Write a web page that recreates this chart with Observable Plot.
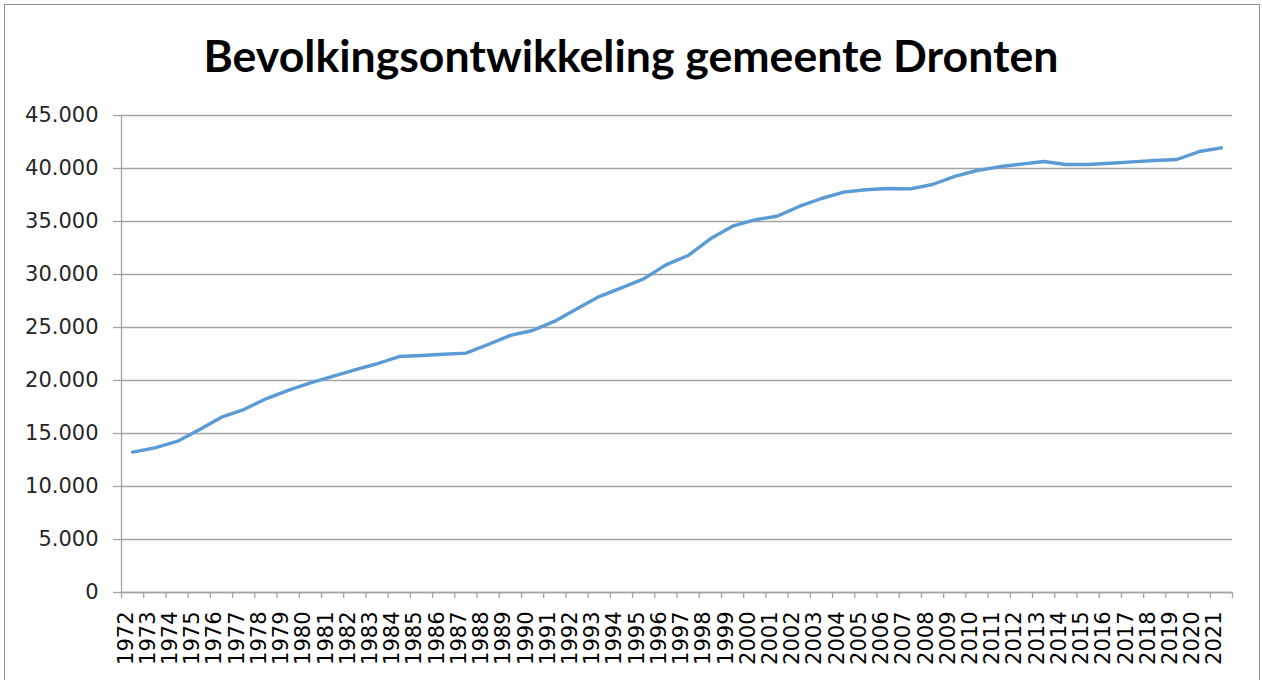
<!DOCTYPE html>
<html>
<head>
<meta charset="utf-8">
<script src="https://cdn.jsdelivr.net/npm/d3@7"></script>
<script src="https://cdn.jsdelivr.net/npm/@observablehq/plot@0.6"></script>
<style>
  html, body { margin: 0; padding: 0; background: #fff; overflow: hidden; }
  #frame { position: absolute; left: 4px; top: 4px; width: 1256px; height: 720px; border: 1px solid #8f8f8f; box-sizing: border-box; }
  #title { position: absolute; left: 0; width: 1262px; top: 33px; text-align: center; font-family: Lato, sans-serif; font-weight: 700; font-size: 42px; line-height: 1; color: #000; white-space: nowrap; }
  #chart { position: absolute; left: 0; top: 95px; }
</style>
</head>
<body>
<div id="frame"></div>
<div id="title">Bevolkingsontwikkeling gemeente Dronten</div>
<div id="chart"></div>
<script>
const titleText = "Bevolkingsontwikkeling gemeente Dronten";

const years = [1972, 1973, 1974, 1975, 1976, 1977, 1978, 1979, 1980, 1981,
               1982, 1983, 1984, 1985, 1986, 1987, 1988, 1989, 1990, 1991,
               1992, 1993, 1994, 1995, 1996, 1997, 1998, 1999, 2000, 2001,
               2002, 2003, 2004, 2005, 2006, 2007, 2008, 2009, 2010, 2011,
               2012, 2013, 2014, 2015, 2016, 2017, 2018, 2019, 2020, 2021];

const population = [13250, 13650, 14250, 15350, 16540, 17260, 18270, 19060, 19780, 20380,
                    21010, 21580, 22260, 22360, 22480, 22580, 23400, 24250, 24720, 25600,
                    26760, 27920, 28740, 29590, 30910, 31790, 33370, 34560, 35160, 35500,
                    36420, 37170, 37770, 37990, 38110, 38080, 38490, 39250, 39810, 40160,
                    40410, 40660, 40380, 40380, 40500, 40630, 40750, 40850, 41600, 41950];

const yTicks = [0, 5000, 10000, 15000, 20000, 25000, 30000, 35000, 40000, 45000];

const data = years.map((year, i) => ({ year, population: population[i] }));
const bounds = d3.range(years.length + 1).map(i => years[0] - 0.5 + i);
const nl = d3.formatLocale({ decimal: ",", thousands: ".", grouping: [3], currency: ["€", ""] });
const fmt = nl.format(",");
const gridColor = "#a3a3a3";

const titleEl = document.getElementById("title");
titleEl.textContent = titleText;

const plot = Plot.plot({
  width: 1262,
  height: 585,
  marginTop: 20,
  marginBottom: 88,
  marginLeft: 121,
  marginRight: 30,
  style: { background: "transparent", overflow: "visible", fontFamily: "DejaVu Sans" },
  x: { domain: [years[0] - 0.5, years[years.length - 1] + 0.5], axis: null, label: null },
  y: { domain: [0, 45000], axis: null, label: null },
  marks: [
    Plot.gridY(yTicks, { stroke: gridColor, strokeOpacity: 1, strokeWidth: 1.3 }),
    Plot.ruleX([years[0] - 0.5], { y1: 0, y2: 45000, stroke: gridColor, strokeWidth: 1.3 }),
    Plot.ruleY([0], { stroke: gridColor, strokeWidth: 1.3 }),
    Plot.axisY(yTicks, {
      label: null, tickSize: 8, tickPadding: 15, tickFormat: fmt,
      fontSize: 21, fontFamily: "DejaVu Sans",
      stroke: gridColor, strokeWidth: 1.3, fill: "#262626"
    }),
    Plot.axisX(bounds, {
      label: null, tickSize: 6, tickFormat: () => "", stroke: gridColor, strokeWidth: 1.3
    }),
    Plot.text(years, {
      x: d => d, text: d => String(d), frameAnchor: "bottom",
      rotate: -90, textAnchor: "end", dy: 19,
      fontSize: 21, fontFamily: "DejaVu Sans", fill: "#000"
    }),
    Plot.line(data, {
      x: "year", y: "population", stroke: "#5b9bd5", strokeWidth: 3.4,
      strokeLinejoin: "round", strokeLinecap: "round"
    })
  ]
});
document.getElementById("chart").appendChild(plot);

// fit title to the reference width (~855px)
const range = document.createRange();
range.selectNodeContents(titleEl);
const tw = range.getBoundingClientRect().width;
if (tw > 0) {
  titleEl.style.fontSize = (42 * 855 / tw) + "px";
}
</script>
</body>
</html>
